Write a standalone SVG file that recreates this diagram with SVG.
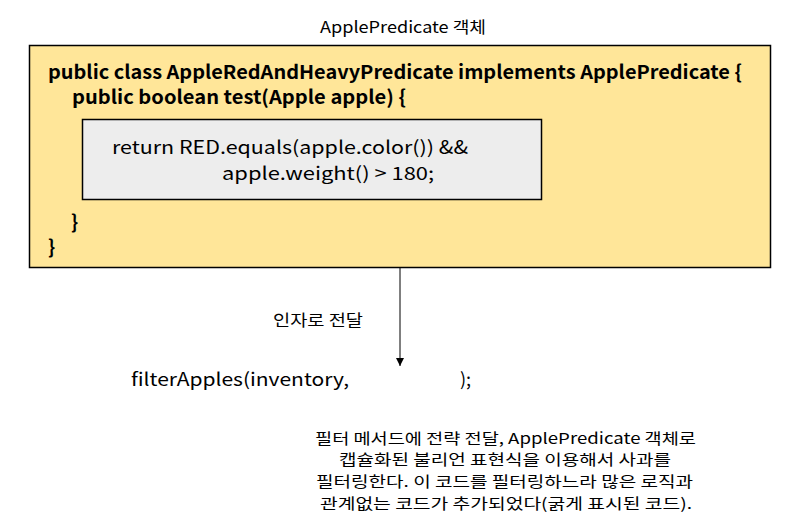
<svg xmlns="http://www.w3.org/2000/svg" width="800" height="527" viewBox="0 0 800 527">
<style>
text{font-family:"Noto Sans CJK KR","Liberation Sans",sans-serif;fill:#000}
.t16{font-size:16px}
.note{font-size:15px}
.code{font-size:19px;font-weight:bold}
.inner{font-size:18px}
.call{font-size:18px}
</style>
<defs>
<marker id="arr" markerWidth="10" markerHeight="10" refX="8" refY="5" orient="auto" markerUnits="userSpaceOnUse">
<path d="M0,1 L8,5 L0,9 Z" fill="#000"/>
</marker>
</defs>
<rect width="800" height="527" fill="#fff"/>
<text class="t16" x="320" y="33" textLength="166" lengthAdjust="spacingAndGlyphs">ApplePredicate 객체</text>
<g id="outer">
<rect x="29.5" y="45.5" width="741" height="222" fill="#FFE699" stroke="#000" stroke-width="1.5"/>
<text class="code" x="48" y="79" textLength="694" lengthAdjust="spacingAndGlyphs">public class AppleRedAndHeavyPredicate implements ApplePredicate {</text>
<text class="code" x="72" y="104" textLength="334" lengthAdjust="spacingAndGlyphs">public boolean test(Apple apple) {</text>
<text class="code" x="71" y="229">}</text>
<text class="code" x="48" y="254">}</text>
</g>
<g id="inner">
<rect x="82.5" y="119.5" width="459" height="80" fill="#EDEDED" stroke="#000" stroke-width="1.5"/>
<text class="inner" x="112" y="154" textLength="356" lengthAdjust="spacingAndGlyphs">return RED.equals(apple.color()) &amp;&amp;</text>
<text class="inner" x="222" y="180" textLength="212" lengthAdjust="spacingAndGlyphs">apple.weight() &gt; 180;</text>
</g>
<g id="connectors">
<line x1="400" y1="267" x2="400" y2="366" stroke="#000" stroke-width="1" marker-end="url(#arr)"/>
</g>
<text class="t16" x="273" y="326" textLength="90" lengthAdjust="spacingAndGlyphs">인자로 전달</text>
<g id="call">
<text class="call" x="131" y="386" textLength="218" lengthAdjust="spacingAndGlyphs">filterApples(inventory,</text>
<text class="call" x="460" y="386">);</text>
</g>
<g id="note">
<text class="note" x="315" y="444" textLength="381" lengthAdjust="spacingAndGlyphs">필터 메서드에 전략 전달, ApplePredicate 객체로</text>
<text class="note" x="339" y="465" textLength="332" lengthAdjust="spacingAndGlyphs">캡슐화된 불리언 표현식을 이용해서 사과를</text>
<text class="note" x="316" y="487" textLength="377" lengthAdjust="spacingAndGlyphs">필터링한다. 이 코드를 필터링하느라 많은 로직과</text>
<text class="note" x="320" y="509" textLength="372" lengthAdjust="spacingAndGlyphs">관계없는 코드가 추가되었다(굵게 표시된 코드).</text>
</g>
</svg>
